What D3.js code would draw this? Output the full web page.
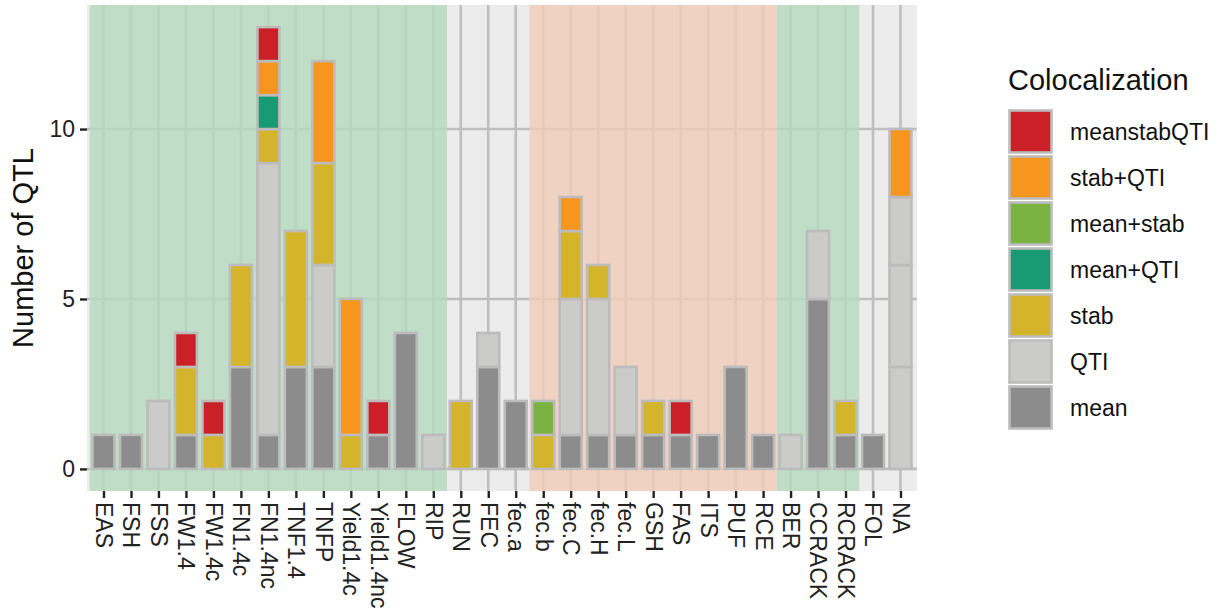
<!DOCTYPE html>
<html>
<head>
<meta charset="utf-8">
<script src="https://cdn.jsdelivr.net/npm/d3@7"></script>
<style>
  body { margin: 0; background: #fff; }
  text { font-family: "Liberation Sans", Arial, sans-serif; }
</style>
</head>
<body>
<div id="chart"></div>
<script>
// traits on the x axis
const traits = ["EAS", "FSH", "FSS", "FW1.4", "FW1.4c", "FN1.4c", "FN1.4nc", "TNF1.4", "TNFP",
  "Yield1.4c", "Yield1.4nc", "FLOW", "RIP", "RUN", "FEC", "fec.a", "fec.b", "fec.C", "fec.H",
  "fec.L", "GSH", "FAS", "ITS", "PUF", "RCE", "BER", "CCRACK", "RCRACK", "FOL", "NA"];

// stacking order, bottom to top
const classes = ["mean", "QTI", "stab", "mean+QTI", "mean+stab", "stab+QTI", "meanstabQTI"];
const classColors = ["#8c8c8c", "#cbcbca", "#d4b42a", "#189b72", "#7ab342", "#f7961e", "#cb2027"];

// counts per trait (an array = several rows of the same class)
const mean        = [1, 1, 0, 1, 0, 3, 1, 3, 3, 0, 1, 4, 0, 0, 3, 2, 0, 1, 1, 1, 1, 1, 1, 3, 1, 0, 5, 1, 1, 0];
const qti         = [0, 0, 2, 0, 0, 0, 8, 0, 3, 0, 0, 0, 1, 0, 1, 0, 0, 4, 4, 2, 0, 0, 0, 0, 0, 1, 2, 0, 0, [3, 3, 2]];
const stab        = [0, 0, 0, 2, 1, 3, 1, 4, 3, 1, 0, 0, 0, 2, 0, 0, 1, 2, 1, 0, 1, 0, 0, 0, 0, 0, 0, 1, 0, 0];
const meanQti     = [0, 0, 0, 0, 0, 0, 1, 0, 0, 0, 0, 0, 0, 0, 0, 0, 0, 0, 0, 0, 0, 0, 0, 0, 0, 0, 0, 0, 0, 0];
const meanStab    = [0, 0, 0, 0, 0, 0, 0, 0, 0, 0, 0, 0, 0, 0, 0, 0, 1, 0, 0, 0, 0, 0, 0, 0, 0, 0, 0, 0, 0, 0];
const stabQti     = [0, 0, 0, 0, 0, 0, 1, 0, 3, 4, 0, 0, 0, 0, 0, 0, 0, 1, 0, 0, 0, 0, 0, 0, 0, 0, 0, 0, 0, 2];
const meanStabQti = [0, 0, 0, 1, 1, 0, 1, 0, 0, 0, 1, 0, 0, 0, 0, 0, 0, 0, 0, 0, 0, 1, 0, 0, 0, 0, 0, 0, 0, 0];
const series = [mean, qti, stab, meanQti, meanStab, stabQti, meanStabQti];

// shaded trait groups
const groupFrom  = ["EAS", "fec.b", "BER"];
const groupTo    = ["RIP", "RCE", "RCRACK"];
const groupColor = ["#b5d9be", "#f1ccb8", "#b5d9be"];

const yTicks = [0, 5, 10];

const W = 1219, H = 612;
const pLeft = 87, pRight = 917, pTop = 5, pBottom = 491;

const svg = d3.select("#chart").append("svg")
  .attr("width", W).attr("height", H);

const x = d3.scalePoint().domain(traits).range([pLeft, pRight]).padding(0.6);
const step = x.step();
const y = d3.scaleLinear().domain([-0.65, 13.65]).range([pBottom, pTop]);

// panel
svg.append("rect").attr("x", pLeft).attr("y", pTop)
  .attr("width", pRight - pLeft).attr("height", pBottom - pTop)
  .attr("fill", "#ebeceb");

const grid = svg.append("g").attr("stroke", "#bebebe").attr("stroke-width", 2.6);
grid.selectAll(".gy").data(yTicks).enter().append("line")
  .attr("x1", pLeft).attr("x2", pRight)
  .attr("y1", d => y(d)).attr("y2", d => y(d));
grid.selectAll(".gx").data(traits).enter().append("line")
  .attr("x1", d => x(d)).attr("x2", d => x(d))
  .attr("y1", pTop).attr("y2", pBottom);

svg.append("g").selectAll("rect")
  .data(groupFrom.map((f, i) => ({ f: f, t: groupTo[i], c: groupColor[i] })))
  .enter().append("rect")
  .attr("x", d => Math.max(pLeft, x(d.f) - step / 2))
  .attr("width", d => x(d.t) + step / 2 - Math.max(pLeft, x(d.f) - step / 2))
  .attr("y", pTop).attr("height", pBottom - pTop)
  .attr("fill", d => d.c).attr("opacity", 0.8);

// stacked segments
const segs = [];
traits.forEach((t, i) => {
  let base = 0;
  series.forEach((s, k) => {
    const parts = Array.isArray(s[i]) ? s[i] : [s[i]];
    parts.forEach(v => {
      if (v > 0) {
        segs.push({ trait: t, y0: base, y1: base + v, color: classColors[k] });
        base += v;
      }
    });
  });
});

const bw = step * 0.8;
svg.append("g").selectAll("rect").data(segs).enter().append("rect")
  .attr("x", d => x(d.trait) - bw / 2)
  .attr("width", bw)
  .attr("y", d => y(d.y1))
  .attr("height", d => y(d.y0) - y(d.y1))
  .attr("fill", d => d.color)
  .attr("stroke", "#bcbcbc")
  .attr("stroke-width", 2.6);

// axes
const xAxis = svg.append("g").attr("transform", `translate(0,${pBottom})`)
  .call(d3.axisBottom(x).tickSize(7).tickPadding(4));
xAxis.select(".domain").remove();
xAxis.selectAll(".tick line").attr("stroke", "#222").attr("stroke-width", 2.4);
xAxis.selectAll(".tick text")
  .attr("font-size", 23).attr("fill", "#222")
  .attr("text-anchor", "start")
  .attr("transform", "rotate(90)")
  .attr("x", 11).attr("y", 0).attr("dy", "0.35em");

const yAxis = svg.append("g").attr("transform", `translate(${pLeft},0)`)
  .call(d3.axisLeft(y).tickValues(yTicks).tickSize(7).tickPadding(5));
yAxis.select(".domain").remove();
yAxis.selectAll(".tick line").attr("stroke", "#222").attr("stroke-width", 2.4);
yAxis.selectAll(".tick text").attr("font-size", 23).attr("fill", "#222");

svg.append("text")
  .attr("transform", `translate(33,${(pTop + pBottom) / 2}) rotate(-90)`)
  .attr("text-anchor", "middle")
  .attr("font-size", 29).attr("fill", "#111")
  .text("Number of QTL");

// legend, top class first
const legend = svg.append("g").attr("transform", "translate(1008,0)");
legend.append("text").attr("x", 0).attr("y", 90)
  .attr("font-size", 29).attr("fill", "#111")
  .text("Colocalization");

const order = classes.map((c, i) => i).reverse();
const keys = legend.selectAll(".key").data(order).enter().append("g")
  .attr("transform", (d, j) => `translate(0,${109 + j * 46})`);
keys.append("rect")
  .attr("x", 1.5).attr("y", 1.5).attr("width", 42).attr("height", 42)
  .attr("fill", d => classColors[d])
  .attr("stroke", "#bcbcbc").attr("stroke-width", 2.6);
keys.append("text")
  .attr("x", 62).attr("y", 23).attr("dy", "0.35em")
  .attr("font-size", 23).attr("fill", "#111")
  .text(d => classes[d]);
</script>
</body>
</html>
